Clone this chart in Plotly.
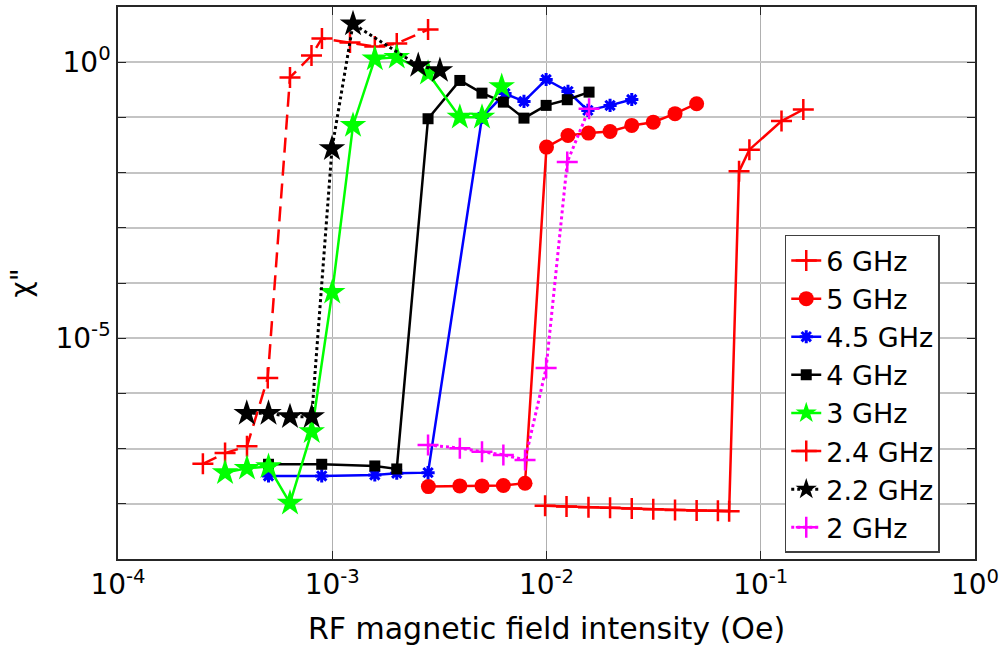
import plotly.graph_objects as go

# RF field amplitude (Oe) and chi'' for each drive frequency
f6_x = [2.49e-4, 3.16e-4, 4.0e-4, 5.0e-4, 6.35e-4, 8.0e-4, 8.95e-4, 1.21e-3, 1.58e-3, 2.0e-3, 2.8e-3]
f6_y = [5.3e-8, 8.3e-8, 1.1e-7, 1.9e-6, 0.53, 1.32, 2.7, 2.27, 1.92, 2.18, 3.9]

f5_x = [2.81e-3, 3.94e-3, 5.0e-3, 6.29e-3, 7.94e-3, 1.0e-2, 1.26e-2, 1.57e-2, 1.98e-2, 2.5e-2, 3.15e-2, 3.98e-2, 5.02e-2]
f5_y = [2.05e-8, 2.11e-8, 2.11e-8, 2.14e-8, 2.36e-8, 0.029, 0.047, 0.052, 0.0557, 0.0716, 0.082, 0.117, 0.177]

f45_x = [5.04e-4, 8.93e-4, 1.58e-3, 2.0e-3, 2.8e-3, 5.0e-3, 6.4e-3, 7.85e-3, 9.96e-3, 1.26e-2, 1.56e-2, 1.98e-2, 2.5e-2]
f45_y = [3.2e-8, 3.2e-8, 3.33e-8, 3.58e-8, 3.67e-8, 0.1, 0.27, 0.195, 0.486, 0.295, 0.134, 0.165, 0.211]

f4_x = [5.04e-4, 8.93e-4, 1.58e-3, 2.0e-3, 2.8e-3, 3.94e-3, 5.0e-3, 6.29e-3, 7.85e-3, 9.96e-3, 1.25e-2, 1.58e-2]
f4_y = [5.2e-8, 5.2e-8, 4.85e-8, 4.28e-8, 0.0946, 0.467, 0.275, 0.189, 0.097, 0.165, 0.209, 0.287]

f3_x = [3.16e-4, 4.0e-4, 5.04e-4, 6.35e-4, 8.02e-4, 1.0e-3, 1.25e-3, 1.58e-3, 2.0e-3, 2.8e-3, 3.94e-3, 5.0e-3, 6.18e-3]
f3_y = [3.67e-8, 4.41e-8, 4.72e-8, 1.03e-8, 2.03e-7, 6.8e-5, 0.0716, 1.15, 1.23, 0.632, 0.101, 0.101, 0.363]

f24_x = [9.85e-3, 1.24e-2, 1.57e-2, 1.98e-2, 2.5e-2, 3.15e-2, 3.98e-2, 5.02e-2, 6.31e-2, 7.12e-2, 7.92e-2, 8.85e-2, 0.125, 0.158]
f24_y = [9.18e-9, 8.91e-9, 8.69e-9, 8.45e-9, 8.2e-9, 8.0e-9, 7.76e-9, 7.55e-9, 7.45e-9, 7.36e-9, 0.01054, 0.026, 0.0857, 0.139]

f22_x = [3.99e-4, 5.04e-4, 6.35e-4, 8.02e-4, 9.97e-4, 1.25e-3, 2.52e-3, 3.18e-3]
f22_y = [4.36e-7, 4.36e-7, 3.79e-7, 3.79e-7, 0.0271, 4.95, 0.871, 0.708]

f2_x = [2.8e-3, 3.94e-3, 5.0e-3, 6.29e-3, 7.94e-3, 9.96e-3, 1.25e-2, 1.58e-2]
f2_y = [1.16e-7, 1.02e-7, 8.8e-8, 7.68e-8, 6.23e-8, 2.88e-6, 0.0155, 0.1435]

x_tick_exp = [-4, -3, -2, -1, 0]
y_tick_exp = list(range(-9, 2))
y_labelled_exp = [0, -5]

FONT = "DejaVu Sans"
LW = 2.5

fig = go.Figure()

# legend proxy for the 6 GHz curve (solid sample in the key)
fig.add_trace(go.Scatter(
    x=[None], y=[None], name="6 GHz", mode="lines+markers",
    line=dict(color="#ff0000", width=LW),
    marker=dict(symbol="cross-thin", size=15, line=dict(color="#ff0000", width=2.5)),
))

fig.add_trace(go.Scatter(
    x=f6_x, y=f6_y, name="6 GHz", mode="lines+markers", showlegend=False,
    line=dict(color="#ff0000", width=LW, dash="15px,8px"),
    marker=dict(symbol="cross-thin", size=15, line=dict(color="#ff0000", width=2.5)),
))
fig.add_trace(go.Scatter(
    x=f5_x, y=f5_y, name="5 GHz", mode="lines+markers",
    line=dict(color="#ff0000", width=LW),
    marker=dict(symbol="circle", size=15, color="#ff0000"),
))
fig.add_trace(go.Scatter(
    x=f45_x, y=f45_y, name="4.5 GHz", mode="lines+markers",
    line=dict(color="#0000ff", width=LW),
    marker=dict(symbol="asterisk-open", size=11, line=dict(color="#0000ff", width=3)),
))
fig.add_trace(go.Scatter(
    x=f4_x, y=f4_y, name="4 GHz", mode="lines+markers",
    line=dict(color="#000000", width=LW),
    marker=dict(symbol="square", size=11, color="#000000"),
))
fig.add_trace(go.Scatter(
    x=f3_x, y=f3_y, name="3 GHz", mode="lines+markers",
    line=dict(color="#00ff00", width=LW),
    marker=dict(symbol="star", size=20, color="#00ff00"),
))
fig.add_trace(go.Scatter(
    x=f24_x, y=f24_y, name="2.4 GHz", mode="lines+markers",
    line=dict(color="#ff0000", width=LW),
    marker=dict(symbol="cross-thin", size=15, line=dict(color="#ff0000", width=2.5)),
))
fig.add_trace(go.Scatter(
    x=f22_x, y=f22_y, name="2.2 GHz", mode="lines+markers",
    line=dict(color="#000000", width=3, dash="dot"),
    marker=dict(symbol="star", size=20, color="#000000"),
))
fig.add_trace(go.Scatter(
    x=f2_x, y=f2_y, name="2 GHz", mode="lines+markers",
    line=dict(color="#ff00ff", width=3, dash="dot"),
    marker=dict(symbol="cross-thin", size=15, line=dict(color="#ff00ff", width=2.5)),
))

fig.update_xaxes(
    type="log", range=[-4, 0],
    tickvals=[10.0 ** e for e in x_tick_exp],
    ticktext=[f"10<sup>{e}</sup>" for e in x_tick_exp],
    ticks="inside", ticklen=8, tickcolor="#262626", tickwidth=1,
    showline=True, linecolor="#262626", linewidth=1.5, mirror="ticks",
    showgrid=True, gridcolor="#b0b0b0", gridwidth=1,
    zeroline=False,
    tickfont=dict(family=FONT, size=28, color="#000000"),
    title=dict(text="RF magnetic field intensity (Oe)", standoff=18,
               font=dict(family=FONT, size=30, color="#000000")),
)
fig.update_yaxes(
    type="log", range=[-9, 1],
    tickvals=[10.0 ** e for e in y_tick_exp],
    ticktext=[f"10<sup>{e}</sup>" if e in y_labelled_exp else "" for e in y_tick_exp],
    ticks="inside", ticklen=8, tickcolor="#262626", tickwidth=1,
    showline=True, linecolor="#262626", linewidth=1.5, mirror="ticks",
    showgrid=True, gridcolor="#c4c4c4", gridwidth=2,
    zeroline=False,
    tickfont=dict(family=FONT, size=28, color="#000000"),
    title=dict(text="χ\"", standoff=16,
               font=dict(family=FONT, size=28, color="#000000")),
)

fig.update_layout(
    width=1006, height=658,
    margin=dict(l=118, r=31, t=7, b=99, autoexpand=False),
    paper_bgcolor="#ffffff", plot_bgcolor="#ffffff",
    font=dict(family=FONT, color="#000000"),
    legend=dict(
        x=0.778, y=0.587, xanchor="left", yanchor="top",
        bgcolor="#ffffff", bordercolor="#404040", borderwidth=1.5,
        font=dict(family=FONT, size=27, color="#000000"),
        tracegroupgap=0, itemwidth=30,
    ),
    showlegend=True,
)

fig.write_html("out.html")
